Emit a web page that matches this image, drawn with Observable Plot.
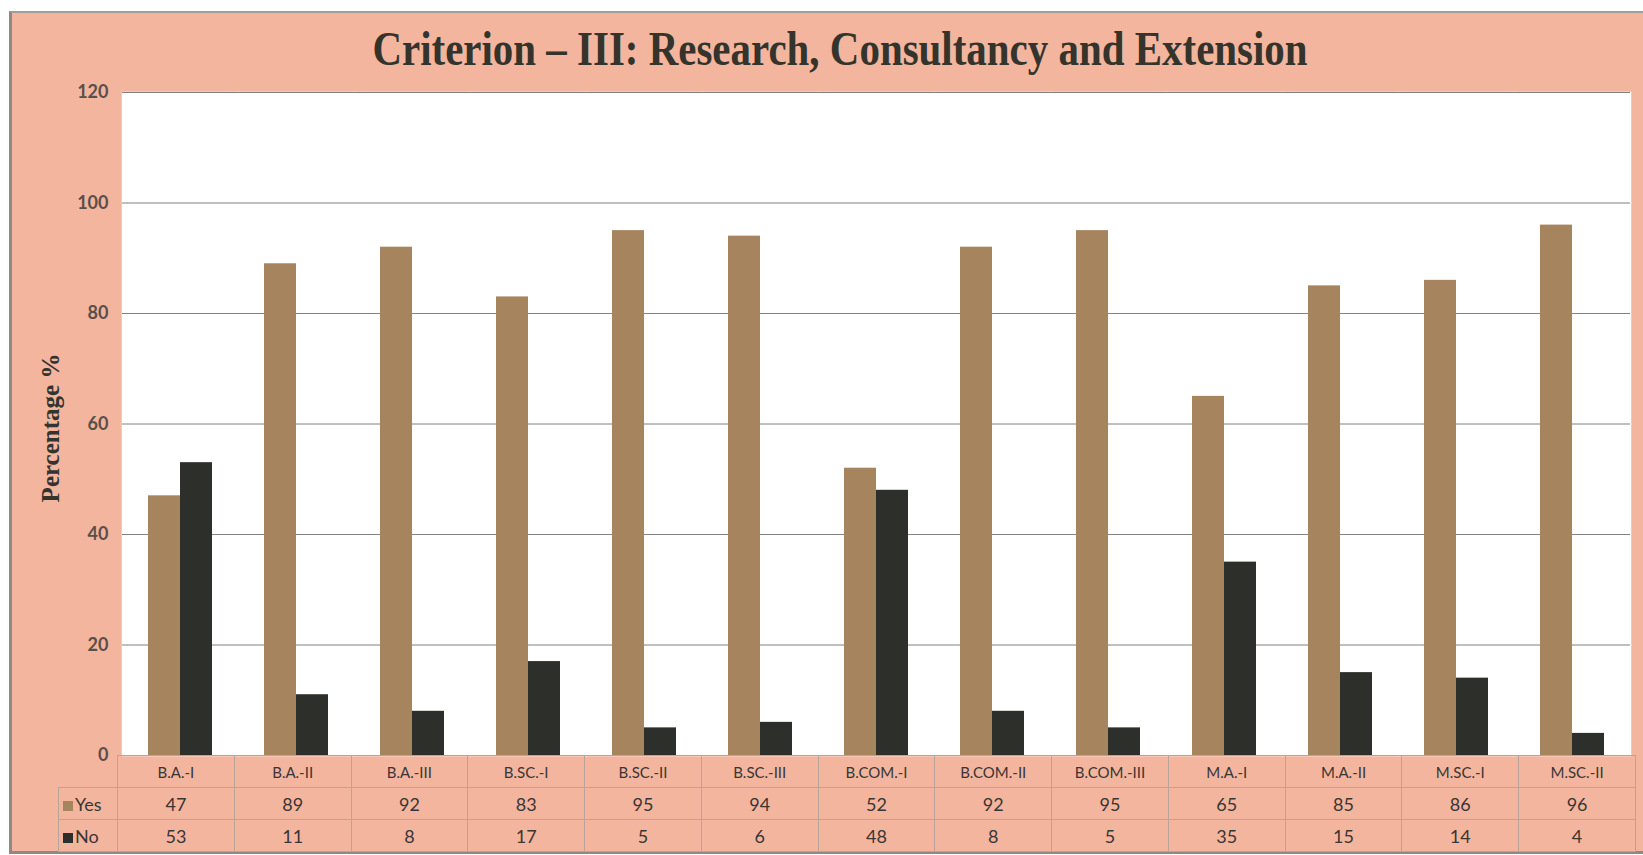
<!DOCTYPE html>
<html>
<head>
<meta charset="utf-8">
<script src="https://cdn.jsdelivr.net/npm/d3@7"></script>
<script src="https://cdn.jsdelivr.net/npm/@observablehq/plot@0.6"></script>
<style>
  html, body { margin: 0; padding: 0; background: #ffffff; }
  #wrap { position: relative; width: 1643px; height: 855px; overflow: hidden; background: #ffffff; }
  #box { position: absolute; left: 9px; top: 11px; width: 1640px; height: 838px; background: #f3b59e;
         border-left: 3px solid #8f8884; border-top: 2px solid #a49c98; border-bottom: 3px solid #8f8884; }
  #title { position: absolute; left: 0; top: 21px; width: 1680px; text-align: center;
           font-family: "Liberation Serif", "Times New Roman", serif; font-weight: bold; font-size: 46px;
           color: #34342c; transform: scaleX(0.89) scaleY(1.05); transform-origin: 840px 0; white-space: nowrap; }
  #chart { position: absolute; left: 0; top: 0; }
  #ylabel { position: absolute; left: 51px; top: 428px; transform: translate(-50%, -50%) rotate(-90deg);
            font-family: "Liberation Serif", "Times New Roman", serif; font-weight: bold; font-size: 25px;
            color: #333330; white-space: nowrap; }
  #tbl { position: absolute; left: 58px; top: 755px; border-collapse: collapse; table-layout: fixed;
         font-family: Lato, "Open Sans", sans-serif; color: #3a3634; }
  #tbl td { border: 1px solid #b9a39b; text-align: center; padding: 0; white-space: nowrap; }
  #tbl tr.cat td { height: 31px; font-size: 15px; }
  #tbl tr.val td { height: 31px; font-size: 18px; }
  #tbl td.lab { text-align: left; font-size: 17px; padding-left: 4px; }
  #tbl tr.cat td.lab { border: none; }
  .sw { display: inline-block; width: 10px; height: 10px; margin-right: 2px; vertical-align: 0px; }
</style>
</head>
<body>
<div id="wrap">
  <div id="box"></div>
  <div id="title"></div>
  <div id="chart"></div>
  <div id="ylabel"></div>
  <table id="tbl"></table>
</div>
<script>
// ---- data ----
const titleText = "Criterion \u2013 III: Research, Consultancy and Extension";
const yLabelText = "Percentage %";
const categories = ["B.A.-I", "B.A.-II", "B.A.-III", "B.SC.-I", "B.SC.-II", "B.SC.-III", "B.COM.-I", "B.COM.-II", "B.COM.-III", "M.A.-I", "M.A.-II", "M.SC.-I", "M.SC.-II"];
const yesValues = [47, 89, 92, 83, 95, 94, 52, 92, 95, 65, 85, 86, 96];
const noValues  = [53, 11, 8, 17, 5, 6, 48, 8, 5, 35, 15, 14, 4];
const seriesNames = ["Yes", "No"];
const seriesColors = ["#a5845e", "#2d2f2b"];
const yTicks = [0, 20, 40, 60, 80, 100, 120];

// ---- build ----
document.getElementById("title").textContent = titleText;
document.getElementById("ylabel").textContent = yLabelText;

const long = [];
categories.forEach((c, i) => {
  long.push({cat: c, series: "Yes", value: yesValues[i]});
  long.push({cat: c, series: "No", value: noValues[i]});
});

const W = 1643, mL = 117, mR = 8;
const chart = Plot.plot({
  width: W,
  height: 760,
  marginTop: 92,
  marginBottom: 5,
  marginLeft: mL,
  marginRight: mR,
  style: {background: "transparent", fontFamily: "Lato, 'Open Sans', sans-serif", fontSize: "18px", color: "#5a4f4a", overflow: "visible"},
  fx: {domain: categories, padding: 0, axis: null, label: null},
  x: {domain: seriesNames, paddingInner: 0, paddingOuter: 0.78, axis: null, label: null},
  y: {domain: [0, 120], ticks: yTicks, label: null},
  color: {domain: seriesNames, range: seriesColors},
  marks: [
    Plot.frame({fill: "white", stroke: "white", strokeWidth: 1.5}),
    Plot.gridY(yTicks, {stroke: "#808080", strokeOpacity: 1, strokeWidth: 1}),
    Plot.axisY(yTicks, {tickSize: 0, tickPadding: 14, label: null, fontWeight: "bold"}),
    Plot.barY(long, {fx: "cat", x: "series", y: "value", fill: "series"})
  ]
});
document.getElementById("chart").appendChild(chart);

// ---- data table under the chart ----
const colW = (W - mL - mR) / categories.length;
const tbl = document.getElementById("tbl");
const cg = document.createElement("colgroup");
const c0 = document.createElement("col"); c0.style.width = (mL - 58) + "px"; cg.appendChild(c0);
categories.forEach(() => { const c = document.createElement("col"); c.style.width = colW + "px"; cg.appendChild(c); });
tbl.appendChild(cg);
tbl.style.width = (mL - 58 + colW * categories.length) + "px";

const trC = document.createElement("tr"); trC.className = "cat";
const tdE = document.createElement("td"); tdE.className = "lab"; trC.appendChild(tdE);
categories.forEach(c => { const td = document.createElement("td"); td.textContent = c; trC.appendChild(td); });
tbl.appendChild(trC);

[yesValues, noValues].forEach((vals, si) => {
  const tr = document.createElement("tr"); tr.className = "val";
  const lab = document.createElement("td"); lab.className = "lab";
  const sw = document.createElement("span"); sw.className = "sw"; sw.style.background = seriesColors[si];
  lab.appendChild(sw); lab.appendChild(document.createTextNode(seriesNames[si]));
  tr.appendChild(lab);
  vals.forEach(v => { const td = document.createElement("td"); td.textContent = v; tr.appendChild(td); });
  tbl.appendChild(tr);
});
</script>
</body>
</html>
